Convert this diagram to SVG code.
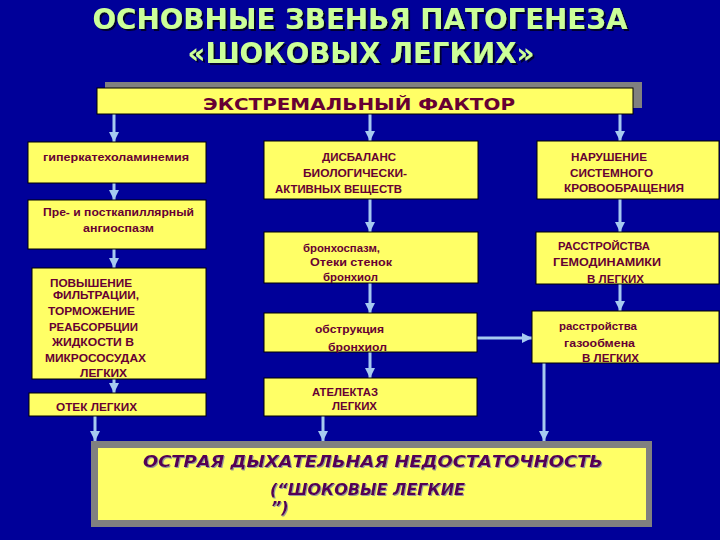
<svg xmlns="http://www.w3.org/2000/svg" width="720" height="540" viewBox="0 0 720 540">
<defs>
<style>
.bg{fill:#000099}
.box{fill:#ffff66;stroke:#000000;stroke-width:1}
.shadow{fill:#808080}
.t{font-family:"Liberation Sans",Arial,sans-serif;font-weight:bold;font-size:11px;fill:#660033}
.title{font-family:"DejaVu Sans","Liberation Sans",sans-serif;font-weight:bold;font-size:28px;fill:#ccff99;text-anchor:middle;filter:url(#tsh)}
.big{font-family:"DejaVu Sans","Liberation Sans",sans-serif;font-weight:bold;font-size:15px;fill:#660033;text-anchor:middle}
.ard{font-family:"DejaVu Sans","Liberation Sans",sans-serif;font-weight:bold;font-style:italic;font-size:16px;fill:#550055;filter:url(#ash)}
.arr{stroke:#a6caf0;stroke-width:3;fill:none;marker-end:url(#ah)}
</style>
<filter id="tsh" x="-5%" y="-20%" width="110%" height="150%">
<feDropShadow dx="2" dy="2" stdDeviation="0" flood-color="#000033" flood-opacity="1"/>
</filter>
<filter id="ash" x="-5%" y="-20%" width="110%" height="150%">
<feDropShadow dx="1" dy="1" stdDeviation="0" flood-color="#999999" flood-opacity="1"/>
</filter>
<marker id="ah" markerUnits="userSpaceOnUse" markerWidth="12" markerHeight="12" refX="10" refY="6" orient="auto">
<path d="M0,1 L10,6 L0,11 Z" fill="#a6caf0"/>
</marker>
</defs>
<rect class="bg" x="0" y="0" width="720" height="540"/>

<g id="title">
<text class="title" x="360" y="29" textLength="535" lengthAdjust="spacingAndGlyphs">ОСНОВНЫЕ ЗВЕНЬЯ ПАТОГЕНЕЗА</text>
<text class="title" x="361" y="63" textLength="347" lengthAdjust="spacingAndGlyphs">«ШОКОВЫХ ЛЕГКИХ»</text>
</g>

<g id="connectors">
<line class="arr" x1="114" y1="114" x2="114" y2="142"/>
<line class="arr" x1="114" y1="183" x2="114" y2="200"/>
<line class="arr" x1="114" y1="249" x2="114" y2="268"/>
<line class="arr" x1="114" y1="379" x2="114" y2="393"/>
<line class="arr" x1="95" y1="416" x2="95" y2="441"/>
<line class="arr" x1="370" y1="114" x2="370" y2="141"/>
<line class="arr" x1="370" y1="199" x2="370" y2="232"/>
<line class="arr" x1="370" y1="283" x2="370" y2="313"/>
<line class="arr" x1="370" y1="352" x2="370" y2="378"/>
<line class="arr" x1="323" y1="416" x2="323" y2="441"/>
<line class="arr" x1="477" y1="338" x2="532" y2="338"/>
<line class="arr" x1="620" y1="114" x2="620" y2="141"/>
<line class="arr" x1="620" y1="199" x2="620" y2="232"/>
<line class="arr" x1="620" y1="284" x2="620" y2="311"/>
<line class="arr" x1="544" y1="363" x2="544" y2="441"/>
</g>

<g id="extreme">
<rect class="shadow" x="105" y="82" width="537" height="26"/>
<rect class="box" x="97" y="88" width="536" height="26"/>
<text class="big" x="359" y="110" textLength="312" lengthAdjust="spacingAndGlyphs">ЭКСТРЕМАЛЬНЫЙ ФАКТОР</text>
</g>

<g id="hypercat">
<rect class="box" x="28" y="142" width="178" height="41"/>
<text class="t" x="43" y="161" textLength="146" lengthAdjust="spacingAndGlyphs">гиперкатехоламинемия</text>
</g>
<g id="angiospasm">
<rect class="box" x="28" y="200" width="178" height="49"/>
<text class="t" x="43" y="216" textLength="151" lengthAdjust="spacingAndGlyphs">Пре- и посткапиллярный</text>
<text class="t" x="83" y="232" textLength="71" lengthAdjust="spacingAndGlyphs">ангиоспазм</text>
</g>
<g id="filtration">
<rect class="box" x="32" y="268" width="174" height="111"/>
<text class="t" x="50" y="287" textLength="82" lengthAdjust="spacingAndGlyphs">ПОВЫШЕНИЕ</text>
<text class="t" x="53" y="299" textLength="86" lengthAdjust="spacingAndGlyphs">ФИЛЬТРАЦИИ,</text>
<text class="t" x="48" y="315" textLength="87" lengthAdjust="spacingAndGlyphs">ТОРМОЖЕНИЕ</text>
<text class="t" x="49" y="331" textLength="89" lengthAdjust="spacingAndGlyphs">РЕАБСОРБЦИИ</text>
<text class="t" x="52" y="346" textLength="82" lengthAdjust="spacingAndGlyphs">ЖИДКОСТИ В</text>
<text class="t" x="45" y="362" textLength="101" lengthAdjust="spacingAndGlyphs">МИКРОСОСУДАХ</text>
<text class="t" x="80" y="377" textLength="47" lengthAdjust="spacingAndGlyphs">ЛЕГКИХ</text>
</g>
<g id="edema">
<rect class="box" x="29" y="393" width="177" height="23"/>
<text class="t" x="56" y="411" textLength="81" lengthAdjust="spacingAndGlyphs">ОТЕК ЛЕГКИХ</text>
</g>

<g id="imbalance">
<rect class="box" x="264" y="141" width="214" height="58"/>
<text class="t" x="322" y="161" textLength="74" lengthAdjust="spacingAndGlyphs">ДИСБАЛАНС</text>
<text class="t" x="303" y="177" textLength="104" lengthAdjust="spacingAndGlyphs">БИОЛОГИЧЕСКИ-</text>
<text class="t" x="275" y="193" textLength="127" lengthAdjust="spacingAndGlyphs">АКТИВНЫХ ВЕЩЕСТВ</text>
</g>
<g id="bronchospasm">
<rect class="box" x="264" y="232" width="214" height="51"/>
<text class="t" x="303" y="252" textLength="77" lengthAdjust="spacingAndGlyphs">бронхоспазм,</text>
<text class="t" x="310" y="266" textLength="82" lengthAdjust="spacingAndGlyphs">Отеки стенок</text>
<text class="t" x="323" y="281" textLength="55" lengthAdjust="spacingAndGlyphs">бронхиол</text>
</g>
<g id="obstruction">
<rect class="box" x="264" y="313" width="213" height="39"/>
<text class="t" x="315" y="333" textLength="69" lengthAdjust="spacingAndGlyphs">обструкция</text>
<text class="t" x="328" y="351" textLength="59" lengthAdjust="spacingAndGlyphs">бронхиол</text>
</g>
<g id="atelectasis">
<rect class="box" x="264" y="378" width="213" height="38"/>
<text class="t" x="312" y="396" textLength="66" lengthAdjust="spacingAndGlyphs">АТЕЛЕКТАЗ</text>
<text class="t" x="332" y="410" textLength="45" lengthAdjust="spacingAndGlyphs">ЛЕГКИХ</text>
</g>

<g id="circulation">
<rect class="box" x="537" y="141" width="182" height="58"/>
<text class="t" x="571" y="161" textLength="76" lengthAdjust="spacingAndGlyphs">НАРУШЕНИЕ</text>
<text class="t" x="570" y="177" textLength="83" lengthAdjust="spacingAndGlyphs">СИСТЕМНОГО</text>
<text class="t" x="564" y="192" textLength="120" lengthAdjust="spacingAndGlyphs">КРОВООБРАЩЕНИЯ</text>
</g>
<g id="hemodynamics">
<rect class="box" x="536" y="232" width="183" height="52"/>
<text class="t" x="558" y="250" textLength="92" lengthAdjust="spacingAndGlyphs">РАССТРОЙСТВА</text>
<text class="t" x="553" y="266" textLength="108" lengthAdjust="spacingAndGlyphs">ГЕМОДИНАМИКИ</text>
<text class="t" x="587" y="283" textLength="57" lengthAdjust="spacingAndGlyphs">В ЛЕГКИХ</text>
</g>
<g id="gasexchange">
<rect class="box" x="532" y="311" width="187" height="52"/>
<text class="t" x="559" y="330" textLength="78" lengthAdjust="spacingAndGlyphs">расстройства</text>
<text class="t" x="564" y="347" textLength="71" lengthAdjust="spacingAndGlyphs">газообмена</text>
<text class="t" x="582" y="362" textLength="57" lengthAdjust="spacingAndGlyphs">В ЛЕГКИХ</text>
</g>

<g id="ard">
<rect class="shadow" x="91" y="441" width="561" height="86"/>
<rect fill="#ffff66" x="98" y="448" width="548" height="72"/>
<text class="ard" x="143" y="467" textLength="460" lengthAdjust="spacingAndGlyphs">ОСТРАЯ ДЫХАТЕЛЬНАЯ НЕДОСТАТОЧНОСТЬ</text>
<text class="ard" x="270" y="495" font-size="14" textLength="195" lengthAdjust="spacingAndGlyphs">(“ШОКОВЫЕ ЛЕГКИЕ</text>
<text class="ard" x="271" y="513" font-size="14">”)</text>
</g>
</svg>
